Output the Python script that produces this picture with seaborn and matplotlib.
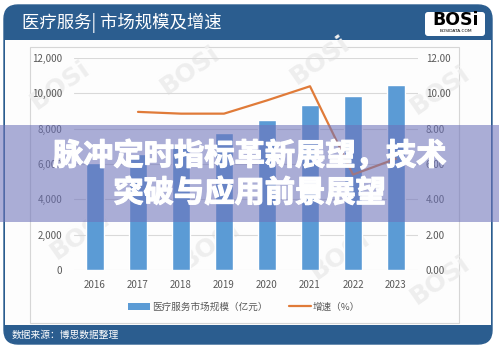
import matplotlib
matplotlib.use("Agg")
import numpy as np
import pandas as pd
import matplotlib.pyplot as plt
import seaborn as sns
from matplotlib.patches import FancyBboxPatch, Rectangle
from matplotlib.lines import Line2D
from matplotlib.transforms import IdentityTransform
import matplotlib.patheffects as pe

# ---- data ----
years = ["2016", "2017", "2018", "2019", "2020", "2021", "2022", "2023"]
market_size = [6050, 6580, 7150, 7750, 8500, 9350, 9870, 10480]      # 亿元
growth_years = ["2017", "2018", "2019", "2020", "2021", "2022", "2023"]
growth_rate = [8.95, 8.85, 8.85, 9.6, 10.4, 5.4, 6.3]                # %
left_ticks = [0, 2000, 4000, 6000, 8000, 10000, 12000]
right_ticks = [0, 2, 4, 6, 8, 10, 12]

title = "医疗服务| 市场规模及增速"
source = "数据来源：博思数据整理"
bar_label = "医疗服务市场规模（亿元）"
line_label = "增速（%）"
banner_lines = ["脉冲定时指标革新展望，技术", "突破与应用前景展望"]

sns.set_theme(style="white")
plt.rcParams["font.family"] = ["Noto Sans CJK SC", "DejaVu Sans"]

BAR_C = "#5b9bd5"
LINE_C = "#e07b39"
NAVY = "#2b5d8f"
TXT = "#595959"

W, H = 499, 349
fig = plt.figure(figsize=(W / 100, H / 100), dpi=100, facecolor="white")


def fx(x):
    return x / W


def fy(y):
    return 1 - y / H


def pix(y):
    return H - y


# outer frame: navy rounded panel, white body on top of it
fig.add_artist(FancyBboxPatch((4, pix(344)), 488, 339,
                              boxstyle="round,pad=0,rounding_size=14",
                              transform=IdentityTransform(), fc=NAVY, ec=NAVY, lw=1,
                              zorder=0))
fig.add_artist(Rectangle((5, pix(325)), 486, 285, transform=IdentityTransform(),
                         fc="#fdfdfd", ec="none", zorder=0.5))
# inner chart box
fig.add_artist(Rectangle((30, pix(323)), 429, 276, transform=IdentityTransform(),
                         fc="none", ec="#d6d6d6", lw=0.8, zorder=0.6))

# header / footer text
fig.text(fx(22), fy(23), title, color="white", fontsize=12.5, va="center", ha="left")
fig.text(fx(12), fy(335), source, color="white", fontsize=7, va="center", ha="left")

# logo badge
fig.add_artist(FancyBboxPatch((425, pix(36)), 60, 24,
                              boxstyle="round,pad=0,rounding_size=3",
                              transform=IdentityTransform(), fc="white", ec="none",
                              zorder=1))
fig.text(fx(456), fy(20), "BOSi", color="black", fontsize=12.5, fontweight="bold",
         family="DejaVu Sans", va="center", ha="center", zorder=2)
fig.text(fx(456), fy(31), "BOSIDATA.COM", color="black", fontsize=3.2,
         family="DejaVu Sans", va="center", ha="center", zorder=2)

# faint watermarks
for (wx, wy) in [(60, 85), (190, 70), (320, 60), (440, 90), (80, 235),
                 (210, 245), (340, 255), (440, 280)]:
    fig.text(fx(wx), fy(wy), "BOSi", color="#eeeeee", fontsize=18,
             fontweight="bold", family="DejaVu Sans", rotation=35,
             ha="center", va="center", zorder=0.7)

# ---- chart ----
ax = fig.add_axes([fx(73.5), fy(270), (417.5 - 73.5) / W, (270 - 58) / H])
ax.set_zorder(2)
ax.patch.set_alpha(0)

df_bar = pd.DataFrame({"year": years, "size": market_size})
sns.barplot(data=df_bar, x="year", y="size", color=BAR_C, saturation=1,
            width=0.4, ax=ax, zorder=3)
ax.set_ylim(0, 12000)
ax.set_xlim(-0.5, len(years) - 0.5)
ax.set_yticks(left_ticks)
ax.set_yticklabels([f"{v:,}" for v in left_ticks])
ax.yaxis.grid(True, color="#d9d9d9", lw=0.8)
ax.set_axisbelow(True)
ax.set_xlabel("")
ax.set_ylabel("")
for s in ax.spines.values():
    s.set_visible(False)
ax.tick_params(axis="y", length=0, pad=8, labelsize=7, labelcolor=TXT)
ax.tick_params(axis="x", length=0, pad=7, labelsize=7, labelcolor=TXT)

ax2 = ax.twinx()
ax2.set_zorder(3)
ax2.patch.set_alpha(0)
df_line = pd.DataFrame({"pos": [years.index(y) for y in growth_years],
                        "rate": growth_rate})
sns.lineplot(data=df_line, x="pos", y="rate", color=LINE_C, linewidth=1.6,
             ax=ax2, zorder=4)
ax2.set_ylim(0, 12)
ax2.set_yticks(right_ticks)
ax2.set_yticklabels([f"{v:.2f}" for v in right_ticks])
ax2.set_ylabel("")
ax2.set_xlim(-0.5, len(years) - 0.5)
for s in ax2.spines.values():
    s.set_visible(False)
ax2.tick_params(axis="y", length=0, pad=6, labelsize=7, labelcolor=TXT)

handles = [Rectangle((0, 0), 1, 1, fc=BAR_C, ec="none"),
           Line2D([], [], color=LINE_C, lw=1.6)]
leg = fig.legend(handles, [bar_label, line_label], loc="center",
                 bbox_to_anchor=(fx(244), fy(307)), ncol=2, frameon=False,
                 fontsize=6.9, handlelength=2.3, handleheight=0.7,
                 columnspacing=2.3, handletextpad=0.2)
for t in leg.get_texts():
    t.set_color(TXT)

# ---- overlay banner ----
fig.add_artist(Rectangle((0, fy(222)), 1, (222 - 125) / H, transform=fig.transFigure,
                         fc=(0.43, 0.45, 0.73), alpha=0.58, ec="none", zorder=10))
heavy = [pe.withStroke(linewidth=0.9, foreground="white")]
fig.text(0.5, fy(156), banner_lines[0], color="white", fontsize=21.8,
         fontweight="bold", ha="center", va="center", zorder=11, path_effects=heavy)
fig.text(0.5, fy(193), banner_lines[1], color="white", fontsize=21.8,
         fontweight="bold", ha="center", va="center", zorder=11, path_effects=heavy)

fig.savefig("out.png", dpi=100, facecolor="white")
